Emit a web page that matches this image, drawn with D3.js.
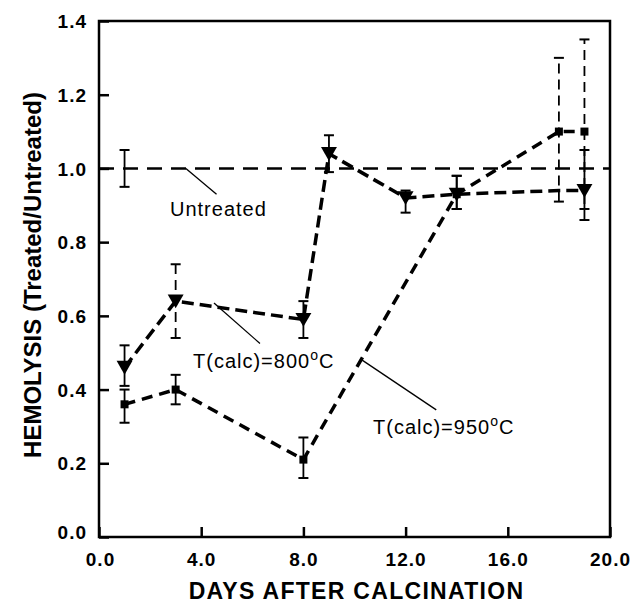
<!doctype html>
<html lang='en'>
<head>
    <meta charset='UTF-8'>
    <title>Hemolysis</title>
    <style>
        html, body { margin: 0; background: #fff; }
        svg { display: block; }
        text { font-family: "Liberation Sans", Arial, sans-serif; fill: #000; }
    </style>
</head>
<body>
    <script src='https://d3js.org/d3.v7.min.js'></script>
    <div class='chart'></div>
    <script>
        // values
        const xTicks = [0, 4, 8, 12, 16, 20];
        const yTicks = [0, 0.2, 0.4, 0.6, 0.8, 1.0, 1.2, 1.4];

        const days800 = [1, 3, 8, 9, 12, 14, 18, 19];
        const hem800 = [0.46, 0.64, 0.59, 1.04, 0.92, 0.93, 0.94, 0.94];
        const hi800 = [0.52, 0.74, 0.64, 1.09, 0.94, 0.98, null, 1.05];
        const lo800 = [0.41, 0.54, 0.54, 0.99, 0.88, 0.89, null, 0.89];

        const days950 = [1, 3, 8, 14, 18, 19];
        const hem950 = [0.36, 0.40, 0.21, 0.93, 1.10, 1.10];
        const hi950 = [0.40, 0.44, 0.27, 0.98, 1.30, 1.35];
        const lo950 = [0.31, 0.36, 0.16, 0.89, 0.91, 0.86];

        const untreated = 1.0;
        const untreatedErr = {day: 1, hi: 1.05, lo: 0.95};

        const width = 634, height = 605;
        const plot = {left: 99, right: 610, top: 21, bottom: 537};

        const svg = d3.select('.chart').append('svg')
            .attr('width', width)
            .attr('height', height);

        const x = d3.scaleLinear().domain([0, 20]).range([plot.left, plot.right]);
        const y = d3.scaleLinear().domain([0, 1.4]).range([plot.bottom, plot.top]);

        // frame
        svg.append('rect')
            .attr('x', plot.left).attr('y', plot.top)
            .attr('width', plot.right - plot.left)
            .attr('height', plot.bottom - plot.top)
            .attr('fill', 'none')
            .attr('stroke', '#000')
            .attr('stroke-width', 2.5);

        // axes, ticks inward
        const xAxis = svg.append('g')
            .attr('transform', 'translate(0,' + plot.bottom + ')')
            .call(d3.axisBottom(x).tickValues(xTicks).tickSize(-10).tickPadding(15)
                .tickFormat(d3.format('.1f')));
        const yAxis = svg.append('g')
            .attr('transform', 'translate(' + plot.left + ',0)')
            .call(d3.axisLeft(y).tickValues(yTicks).tickSize(-10).tickPadding(12)
                .tickFormat(d3.format('.1f')));

        [xAxis, yAxis].forEach((g) => {
            g.select('.domain').remove();
            g.selectAll('line').attr('stroke', '#000').attr('stroke-width', 2.5);
            g.selectAll('text')
                .style('font-size', '19px')
                .style('font-weight', 'bold')
                .style('letter-spacing', '1px')
                .attr('fill', '#000');
        });
        xAxis.selectAll('text').attr('dy', '0.75em');
        yAxis.selectAll('text').attr('dx', '0').attr('dy', '0.35em');
        // edge labels hang off the corner
        xAxis.selectAll('.tick').filter((d) => d === 0).select('text').attr('x', 1);
        yAxis.selectAll('.tick').filter((d) => d === 0).select('text').attr('dy', '0.1em');

        // axis titles
        svg.append('text')
            .attr('x', (plot.left + plot.right) / 2 + 2)
            .attr('y', 599)
            .attr('text-anchor', 'middle')
            .style('font-size', '23px')
            .style('font-weight', 'bold')
            .style('letter-spacing', '1.3px')
            .text('DAYS AFTER CALCINATION');

        svg.append('text')
            .attr('transform', 'translate(41,' + 275 + ') rotate(-90)')
            .attr('text-anchor', 'middle')
            .style('font-size', '24px')
            .style('font-weight', 'bold')
            .text('HEMOLYSIS (Treated/Untreated)');

        // untreated reference
        svg.append('line')
            .attr('x1', plot.left).attr('x2', plot.right)
            .attr('y1', y(untreated)).attr('y2', y(untreated))
            .attr('stroke', '#000')
            .attr('stroke-width', 2.5)
            .attr('stroke-dasharray', '15,9');

        function errorBar(day, lo, hi) {
            if (lo == null) return;
            const dashed = hi - lo >= 0.19;
            const g = svg.append('g');
            g.append('line')
                .attr('x1', x(day)).attr('x2', x(day))
                .attr('y1', y(lo)).attr('y2', y(hi))
                .attr('stroke', '#000')
                .attr('stroke-width', 1.8)
                .attr('stroke-dasharray', dashed ? '10,6' : null);
            [lo, hi].forEach((v) => {
                g.append('line')
                    .attr('x1', x(day) - 5).attr('x2', x(day) + 5)
                    .attr('y1', y(v)).attr('y2', y(v))
                    .attr('stroke', '#000')
                    .attr('stroke-width', 2);
            });
        }

        errorBar(untreatedErr.day, untreatedErr.lo, untreatedErr.hi);
        days800.forEach((d, i) => errorBar(d, lo800[i], hi800[i]));
        days950.forEach((d, i) => errorBar(d, lo950[i], hi950[i]));

        const line = d3.line()
            .x((d) => x(d[0]))
            .y((d) => y(d[1]));

        svg.append('path')
            .datum(days800.map((d, i) => [d, hem800[i]]))
            .attr('d', line)
            .attr('fill', 'none')
            .attr('stroke', '#000')
            .attr('stroke-width', 3.5)
            .attr('stroke-dasharray', '12,6');

        svg.append('path')
            .datum(days950.map((d, i) => [d, hem950[i]]))
            .attr('d', line)
            .attr('fill', 'none')
            .attr('stroke', '#000')
            .attr('stroke-width', 3.5)
            .attr('stroke-dasharray', '11,7');

        // markers
        const tri = d3.symbol().type(d3.symbolTriangle).size(110);
        svg.selectAll('.m800')
            .data(days800.map((d, i) => ({day: d, v: hem800[i], e: hi800[i]})).filter((d) => d.e != null))
            .enter().append('path')
            .attr('d', tri)
            .attr('transform', (d) => 'translate(' + x(d.day) + ',' + (y(d.v) - 2) + ') rotate(180)')
            .attr('fill', '#000');

        svg.selectAll('.m950')
            .data(days950.map((d, i) => ({day: d, v: hem950[i]})))
            .enter().append('rect')
            .attr('x', (d) => x(d.day) - 4)
            .attr('y', (d) => y(d.v) - 4)
            .attr('width', 8)
            .attr('height', 8)
            .attr('fill', '#000');

        // annotations
        function label(tx, ty, main, lx1, ly1, lx2, ly2) {
            svg.append('line')
                .attr('x1', lx1).attr('y1', ly1)
                .attr('x2', lx2).attr('y2', ly2)
                .attr('stroke', '#000')
                .attr('stroke-width', 1.3);
            const t = svg.append('text')
                .attr('x', tx).attr('y', ty)
                .style('font-size', '20px')
                .style('letter-spacing', '1px');
            t.append('tspan').text(main);
            return t;
        }

        label(170, 216, 'Untreated', x(3.4), y(1.0), x(4.6), y(0.93));

        const t800 = label(193, 368, 'T(calc)=800', x(4.5), y(0.635), x(6.3), y(0.525));
        t800.append('tspan').attr('dy', '-8').style('font-size', '14px').text('o');
        t800.append('tspan').attr('dy', '8').text('C');

        const t950 = label(373, 434, 'T(calc)=950', x(10.3), y(0.48), x(13.2), y(0.345));
        t950.append('tspan').attr('dy', '-8').style('font-size', '14px').text('o');
        t950.append('tspan').attr('dy', '8').text('C');
    </script>
</body>
</html>
